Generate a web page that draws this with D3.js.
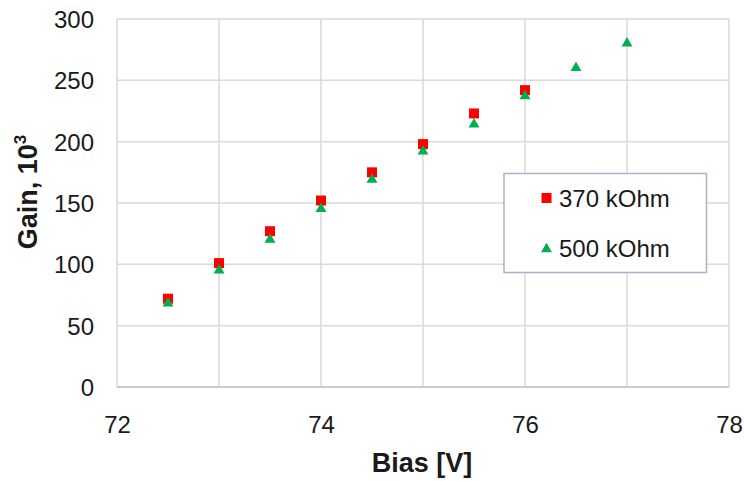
<!DOCTYPE html>
<html>
<head>
<meta charset="utf-8">
<script src="https://cdn.jsdelivr.net/npm/d3@7"></script>
<style>
  html, body { margin: 0; padding: 0; background: #fff; }
  svg { display: block; font-family: "Liberation Sans", Arial, sans-serif; }
</style>
</head>
<body>
<svg id="chart" width="744" height="481"></svg>
<script>
// Data
const bias370 = [72.5, 73, 73.5, 74, 74.5, 75, 75.5, 76];
const gain370 = [72, 101, 127, 152, 175, 198, 223, 242];
const bias500 = [72.5, 73, 73.5, 74, 74.5, 75, 75.5, 76, 76.5, 77];
const gain500 = [69, 96, 121, 146, 170, 193, 215, 238, 261, 281];
const xTickLabels = [72, 74, 76, 78];
const yTickLabels = [0, 50, 100, 150, 200, 250, 300];
const xGrid = [72, 73, 74, 75, 76, 77, 78];
const seriesNames = ["370 kOhm", "500 kOhm"];

const svg = d3.select("#chart");
const L = 117, R = 729, T = 19, B = 387;
const x = d3.scaleLinear().domain([72, 78]).range([L, R]);
const y = d3.scaleLinear().domain([0, 300]).range([B, T]);

// grid
const g = svg.append("g");
g.selectAll("line.v").data(xGrid).enter().append("line")
  .attr("x1", d => x(d)).attr("x2", d => x(d))
  .attr("y1", T).attr("y2", B)
  .attr("stroke", "#d9d9d9").attr("stroke-width", 1.5);
g.selectAll("line.h").data(yTickLabels).enter().append("line")
  .attr("x1", L).attr("x2", R)
  .attr("y1", d => y(d)).attr("y2", d => y(d))
  .attr("stroke", d => d === 0 ? "#cccccc" : "#d9d9d9")
  .attr("stroke-width", d => d === 0 ? 2 : 1.5);

// axes (labels only)
const xAxis = d3.axisBottom(x).tickValues(xTickLabels).tickFormat(d3.format("d")).tickSize(0).tickPadding(0);
const xa = svg.append("g").attr("transform", `translate(0,${B})`).call(xAxis);
xa.select(".domain").remove();
xa.selectAll("text").attr("font-size", 24).attr("fill", "#1a1a1a")
  .attr("font-family", "'Liberation Sans', Arial, sans-serif")
  .attr("dy", null).attr("y", 46);

const yAxis = d3.axisLeft(y).tickValues(yTickLabels).tickFormat(d3.format("d")).tickSize(0).tickPadding(0);
const ya = svg.append("g").attr("transform", `translate(${L},0)`).call(yAxis);
ya.select(".domain").remove();
ya.selectAll("text").attr("font-size", 24).attr("fill", "#1a1a1a")
  .attr("font-family", "'Liberation Sans', Arial, sans-serif")
  .attr("x", -23).attr("dy", "0.36em");

// axis titles
svg.append("text")
  .attr("x", (L + R) / 2 - 1).attr("y", 472)
  .attr("text-anchor", "middle").attr("font-size", 27).attr("font-weight", "bold")
  .attr("fill", "#1a1a1a").text("Bias [V]");

const yt = svg.append("text")
  .attr("transform", "translate(37,192) rotate(-90)")
  .attr("text-anchor", "middle").attr("font-size", 27).attr("font-weight", "bold")
  .attr("fill", "#1a1a1a");
yt.append("tspan").text("Gain, 10");
yt.append("tspan").attr("font-size", 17).attr("dy", -11).text("3");

// markers
const sq = 10;
svg.append("g").selectAll("rect").data(bias370).enter().append("rect")
  .attr("x", (d) => x(d) - sq / 2)
  .attr("y", (d, i) => y(gain370[i]) - sq / 2)
  .attr("width", sq).attr("height", sq)
  .attr("fill", "#ff0000");

const tri = d3.symbol().type(d3.symbolTriangle).size(52);
svg.append("g").selectAll("path").data(bias500).enter().append("path")
  .attr("d", tri)
  .attr("transform", (d, i) => `translate(${x(d)},${y(gain500[i]) + 1})`)
  .attr("fill", "#00b050");

// legend
const lg = svg.append("g");
lg.append("rect").attr("x", 504).attr("y", 173.5).attr("width", 202.5).attr("height", 99)
  .attr("fill", "#fff").attr("stroke", "#a8b3cc").attr("stroke-width", 1.5);
lg.append("rect").attr("x", 541.5).attr("y", 193).attr("width", 10).attr("height", 10).attr("fill", "#ff0000");
lg.append("path").attr("d", tri).attr("transform", "translate(546.5,249)").attr("fill", "#00b050");
lg.selectAll("text").data(seriesNames).enter().append("text")
  .attr("x", 559).attr("y", (d, i) => 206.5 + i * 50)
  .attr("font-size", 24).attr("fill", "#1a1a1a").text(d => d);
</script>
</body>
</html>
